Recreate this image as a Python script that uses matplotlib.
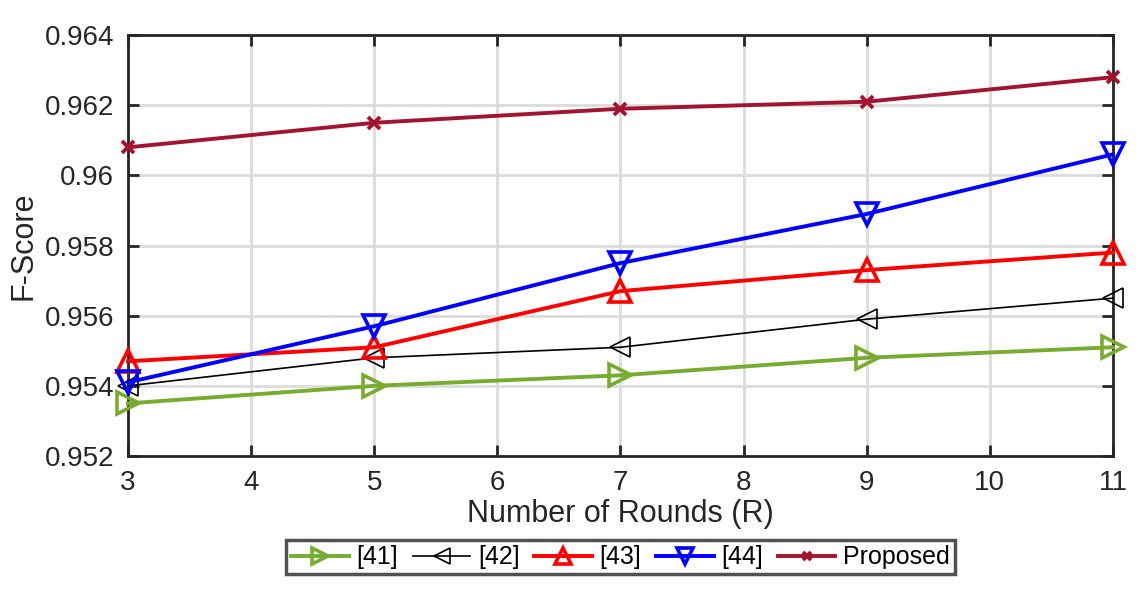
import matplotlib
matplotlib.use("Agg")
import matplotlib.pyplot as plt

rounds = [3, 5, 7, 9, 11]
s41 = [0.9535, 0.9540, 0.9543, 0.9548, 0.9551]
s42 = [0.9540, 0.9548, 0.9551, 0.9559, 0.9565]
s43 = [0.9547, 0.9551, 0.9567, 0.9573, 0.9578]
s44 = [0.9541, 0.9557, 0.9575, 0.9589, 0.9606]
proposed = [0.9608, 0.9615, 0.9619, 0.9621, 0.9628]
labels = ["[41]", "[42]", "[43]", "[44]", "Proposed"]
xticks = [3, 4, 5, 6, 7, 8, 9, 10, 11]
yticks = [0.952, 0.954, 0.956, 0.958, 0.96, 0.962, 0.964]
yticklabels = ["0.952", "0.954", "0.956", "0.958", "0.96", "0.962", "0.964"]

plt.rcParams['font.family'] = ['Liberation Sans', 'DejaVu Sans']

fig = plt.figure(figsize=(11.38, 6.05), dpi=100)
ax = fig.add_axes([0.1125, 0.2463, 0.8655, 0.6957])

kw = dict(clip_on=False, zorder=3)
ax.plot(rounds, s41, color='#77AC30', lw=2.8, marker='>', ms=16, mfc='none', mew=2.6, label=labels[0], **kw)
ax.plot(rounds, s42, color='black', lw=1.2, marker='<', ms=15, mfc='none', mew=1.2, label=labels[1], **kw)
ax.plot(rounds, s43, color='#FF0000', lw=2.8, marker='^', ms=16, mfc='none', mew=2.6, label=labels[2], **kw)
ax.plot(rounds, s44, color='#0000FF', lw=2.8, marker='v', ms=16, mfc='none', mew=2.6, label=labels[3], **kw)
ax.plot(rounds, proposed, color='#A2142F', lw=2.8, marker='x', ms=8, mew=2.8, label=labels[4], **kw)

ax.set_xlim(3, 11)
ax.set_ylim(0.952, 0.964)
ax.set_xticks(xticks)
ax.set_yticks(yticks)
ax.set_yticklabels(yticklabels)
ax.grid(True, color='#dcdcdc', lw=2)
ax.set_axisbelow(True)
for sp in ax.spines.values():
    sp.set_color('#262626')
    sp.set_linewidth(2)
ax.tick_params(direction='in', length=8, width=2, colors='#262626', labelsize=20,
               top=True, right=True, pad=10)
ax.set_xlabel("Number of Rounds (R)", fontsize=22, color='#262626', labelpad=2)
ax.set_ylabel("F-Score", fontsize=22, color='#262626', labelpad=4)

leg = ax.legend(loc='upper center', bbox_to_anchor=(0.5, -0.171), ncol=5, fontsize=18,
                frameon=True, fancybox=False, edgecolor='#262626', handlelength=2.3,
                handletextpad=0.3, columnspacing=0.6, borderpad=0.2, markerscale=0.75)
leg.get_frame().set_linewidth(2.5)

fig.savefig("out.png", dpi=100)
